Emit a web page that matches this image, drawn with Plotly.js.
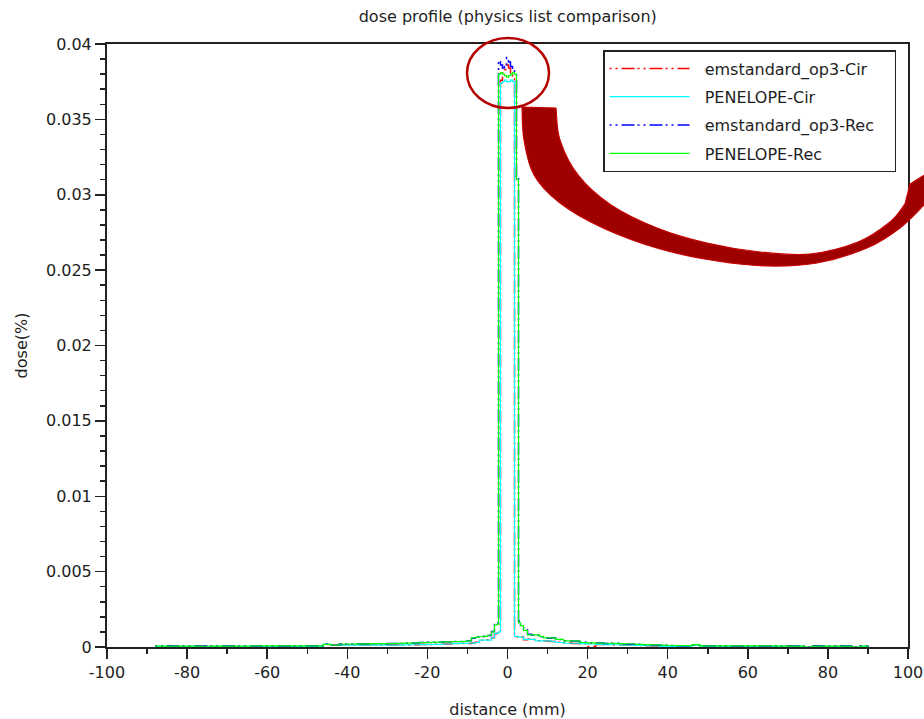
<!DOCTYPE html>
<html>
<head>
<meta charset="utf-8">
<script src="https://cdn.plot.ly/plotly-3.0.1.min.js"></script>
<style>html,body{margin:0;padding:0;background:#fff;}#chart{width:924px;height:719px;}</style>
</head>
<body>
<div id="chart"></div>
<script>
// ---- data (distance in mm, dose) ----
const distance = [-88,-86,-84,-82,-80,-78,-76,-74,-72,-70,-68,-66,-64,-62,-60,-58,-56,-54,-52,-50,-48,-46,-44,-42,-40,-38,-36,-34,-32,-30,-28,-26,-24,-22,-20,-18,-16,-14,
  -12,-11,-10,-9,-8,-7,-6,-5,-4,
  -3.25,-2.75,-2.25,-1.75,-1.25,-0.75,-0.25,0.25,0.75,1.25,1.75,2.25,2.75,3.25,
  4,5,6,7,8,9,10,11,12,
  14,16,18,20,22,24,26,28,30,32,34,36,38,40,42,44,46,48,50,52,54,56,58,60,62,64,66,68,70,72,74,76,78,80,82,84,86,88,
  90];

const emstandardCir = [0.00004,0.00003,0.00004,0.00004,0.00004,0.00004,0.00004,0.00004,0.00004,0.00004,0.00004,0.00004,0.00004,0.00004,0.00004,0.00004,0.00004,0.00004,0.00004,0.00004,0.00004,0.00016,0.00011,0.00012,0.00014,0.00012,0.00013,0.00014,0.00012,0.00013,0.00014,0.00013,0.00015,0.00017,0.00016,0.00019,0.0002,0.00023,
  0.00023,0.00025,0.00024,0.00027,0.00031,0.00045,0.00047,0.00048,0.00062,
  0.00088,0.00092,0.00098,0.0376,0.0381,0.0383,0.0386,0.0384,0.0380,0.0377,0.00072,0.00068,0.00064,0.00067,
  0.00048,0.00052,0.00049,0.00041,0.00039,0.00042,0.00038,0.00036,0.00031,
  0.00026,0.00024,0.00021,0.00003,0.00017,0.00016,0.00014,0.00013,0.00011,0.0001,0.00008,0.00007,0.00004,0.00004,0.00004,0.00004,0.00013,0.00004,0.00004,0.00004,0.00004,0.00004,0.00004,0.00004,0.00004,0.00004,0.00004,0.00004,0.00004,0.00004,0,0.00004,0.00004,0.00004,0.00004,0.00004,0,0.00004,
  0];

const penelopeCir = [0.00004,0.00004,0.00004,0.00004,0.00004,0.00004,0.00004,0.00004,0.00004,0.00004,0.00004,0.00004,0.00004,0.00004,0.00004,0.00004,0.00004,0.00004,0.00004,0.00004,0.00004,0.00018,0.0001,0.00013,0.00013,0.00013,0.00013,0.00013,0.00013,0.00013,0.00013,0.00014,0.00015,0.00016,0.00017,0.00018,0.0002,0.00022,
  0.00024,0.00024,0.00025,0.00026,0.0003,0.00046,0.00046,0.00046,0.0006,
  0.0009,0.0009,0.001,0.0374,0.0375,0.0376,0.0375,0.0375,0.0376,0.0375,0.0007,0.0007,0.00066,0.00066,
  0.0005,0.0005,0.0005,0.0004,0.0004,0.0004,0.0004,0.00035,0.0003,
  0.00025,0.00025,0.00022,0.0002,0.00018,0.00016,0.00015,0.00013,0.00012,0.0001,0.00009,0.00008,0.00004,0.00004,0.00004,0.00004,0.00012,0.00004,0.00004,0.00004,0.00004,0.00004,0.00004,0.00004,0.00004,0.00004,0.00004,0.00004,0.00004,0.00004,0,0.00004,0.00004,0.00004,0.00004,0.00004,0,0.00004,
  0];

const emstandardRec = [0.00006,0.00008,0.00006,0.00006,0.00006,0.00006,0.00007,0.00006,0.00006,0.00007,0.00006,0.00006,0.00007,0.00007,0.00007,0.00007,0.00007,0.00007,0.00008,0.00008,0.00008,0.0002,0.00012,0.0002,0.00019,0.00021,0.00022,0.00022,0.00021,0.00023,0.00024,0.00025,0.00027,0.0003,0.00031,0.00032,0.00034,0.00036,
  0.00036,0.00038,0.00041,0.00058,0.00068,0.00067,0.00071,0.00077,0.00102,
  0.0015,0.0016,0.0389,0.0386,0.0384,0.0385,0.0391,0.0388,0.0385,0.0383,0.0382,0.0312,0.0017,0.0013,
  0.0012,0.00085,0.00079,0.00081,0.00068,0.00062,0.00058,0.00061,0.00049,
  0.00041,0.00039,0.00031,0.00027,0.00027,0.00024,0.00025,0.00021,0.00019,0.00018,0.00015,0.00013,0.00012,0.0001,0.00009,0.00009,0.00015,0.00008,0.00008,0.00008,0.00007,0.00007,0.00007,0.00007,0.00007,0.00007,0.00007,0.00006,0.00006,0.00006,0,0.00008,0.00006,0.00006,0.00008,0.00006,0,0.00006,
  0];

const penelopeRec = [0.00006,0.00006,0.00006,0.00006,0.00006,0.00006,0.00005,0.00006,0.00006,0.00006,0.00006,0.00006,0.00007,0.00007,0.00007,0.00007,0.00007,0.00007,0.00008,0.00008,0.00008,0.00018,0.00012,0.0002,0.0002,0.00021,0.00021,0.00022,0.00022,0.00023,0.00024,0.00026,0.00027,0.00029,0.00031,0.00033,0.00034,0.00035,
  0.00036,0.00037,0.0004,0.0006,0.00066,0.00068,0.0007,0.00078,0.001,
  0.00146,0.0015,0.038,0.0381,0.038,0.0379,0.0378,0.0379,0.038,0.0381,0.038,0.031,0.0016,0.0014,
  0.0011,0.0008,0.0008,0.0008,0.0007,0.0006,0.0006,0.0006,0.0005,
  0.0004,0.0004,0.0003,0.00028,0.00026,0.00025,0.00024,0.00022,0.0002,0.00018,0.00016,0.00014,0.00012,0.0001,0.00009,0.00009,0.00016,0.00008,0.00008,0.00008,0.00007,0.00007,0.00007,0.00007,0.00007,0.00007,0.00007,0.00006,0.00006,0.00006,0,0.00006,0.00006,0.00006,0.00006,0.00006,0,0.00006,
  0];

const seriesNames = ["emstandard_op3-Cir","PENELOPE-Cir","emstandard_op3-Rec","PENELOPE-Rec"];
const seriesColors = ["#ff0000","#00ffff","#0000ff","#00ff00"];
const xTickVals = [-100,-80,-60,-40,-20,0,20,40,60,80,100];
const xTickText = ["-100","-80","-60","-40","-20","0","20","40","60","80","100"];

// ---- layout geometry ----
const W = 924, H = 719, ML = 107, MR = 16, MT = 44, MB = 72;
const PW = W - ML - MR, PH = H - MT - MB;
function px(x){ return ((x - ML) / PW); }
function py(y){ return ((H - MB - y) / PH); }
function P(p){ return px(p[0]).toFixed(4) + ',' + py(p[1]).toFixed(4); }

// smooth path through pixel points (Catmull-Rom -> cubic Bezier), continuing an open path
function smooth(pts){
  let d = "";
  for (let i = 0; i < pts.length - 1; i++){
    const p0 = pts[Math.max(i-1,0)], p1 = pts[i], p2 = pts[i+1], p3 = pts[Math.min(i+2, pts.length-1)];
    const c1 = [p1[0] + (p2[0]-p0[0])/6, p1[1] + (p2[1]-p0[1])/6];
    const c2 = [p2[0] - (p3[0]-p1[0])/6, p2[1] - (p3[1]-p1[1])/6];
    d += " C" + P(c1) + " " + P(c2) + " " + P(p2);
  }
  return d;
}

// decorative arrow (pixel outline)
const arrowInner = [[556,108],[560,140],[578,175],[611,205],[657,228],[707,243],[760,252],[810,254],[858,242],[890,222],[905,204]];
const arrowOuter = [[924,205],[900,228],[867,248],[817,263],[767,266],[717,261],[660,249],[603,228],[560,203],[534,175],[524,140],[522,107]];
const arrowPath = "M" + P(arrowInner[0]) + smooth(arrowInner) +
  " L" + P([910,184]) + " L" + P([955,156]) + " L" + P([940,245]) + " L" + P(arrowOuter[0]) +
  smooth(arrowOuter) + " Z";

const dashPat = "2px,4px,2px,4px,13px,3px";
const seriesData = [emstandardCir, penelopeCir, emstandardRec, penelopeRec];
const dashes = [dashPat, "solid", dashPat, "solid"];
const widths = [1.5, 1.2, 1.5, 1.2];

const traces = seriesData.map((vals, i) => ({
  type: "scatter",
  mode: "lines",
  x: distance,
  y: vals,
  name: "\u00a0\u00a0" + seriesNames[i] + "\u00a0\u00a0\u00a0",
  legendgroup: "g" + i,
  line: {color: seriesColors[i], width: widths[i], shape: "hv", dash: dashes[i]},
  hoverinfo: "skip"
}));

const font = "DejaVu Sans, Liberation Sans, Arial, sans-serif";
const txt = "#1e1e1e";

const layout = {
  width: W, height: H,
  margin: {l: ML, r: MR, t: MT, b: MB, pad: 0},
  paper_bgcolor: "#ffffff",
  plot_bgcolor: "#ffffff",
  font: {family: font, size: 16, color: txt},
  title: {text: "dose profile (physics list comparison)", x: 0.5495, xanchor: "center", y: 0.977, yanchor: "middle",
          font: {family: font, size: 16, color: txt}},
  showlegend: true,
  legend: {
    x: px(603), y: py(50), xanchor: "left", yanchor: "top",
    bgcolor: "#ffffff", bordercolor: "#222222", borderwidth: 1.5,
    font: {family: font, size: 16, color: txt},
    itemwidth: 80, tracegroupgap: 4.5, traceorder: "grouped"
  },
  xaxis: {
    range: [-100, 100], showgrid: false, zeroline: false,
    showline: true, linecolor: "#222222", linewidth: 2, mirror: true,
    ticks: "outside", ticklen: 10, tickwidth: 1.5, tickcolor: "#222222",
    tickvals: xTickVals, ticktext: xTickText,
    tickfont: {family: font, size: 16, color: txt},
    minor: {dtick: 10, tick0: 0, ticks: "outside", ticklen: 5, tickwidth: 1.5, tickcolor: "#222222", showgrid: false},
    title: {text: "distance (mm)", standoff: 23, font: {family: font, size: 16, color: txt}},
    automargin: false
  },
  yaxis: {
    range: [0, 0.04], showgrid: false, zeroline: false,
    showline: true, linecolor: "#222222", linewidth: 2, mirror: true,
    ticks: "outside", ticklen: 10, tickwidth: 1.5, tickcolor: "#222222",
    dtick: 0.005, tick0: 0,
    tickfont: {family: font, size: 16, color: txt},
    minor: {dtick: 0.001, tick0: 0, ticks: "outside", ticklen: 5, tickwidth: 1.5, tickcolor: "#222222", showgrid: false},
    title: {text: "dose(%)", standoff: 14, font: {family: font, size: 16, color: txt}},
    automargin: false
  },
  shapes: [
    {type: "circle", xref: "paper", yref: "paper", x0: px(467), x1: px(549), y0: py(108), y1: py(38),
     line: {color: "#b50000", width: 2.5}, layer: "above"},
    {type: "path", xref: "paper", yref: "paper", path: arrowPath,
     fillcolor: "#9e0000", line: {color: "#c80000", width: 1.2}, layer: "above"}
  ]
};

Plotly.newPlot("chart", traces, layout, {displayModeBar: false, staticPlot: true});
</script>
</body>
</html>
